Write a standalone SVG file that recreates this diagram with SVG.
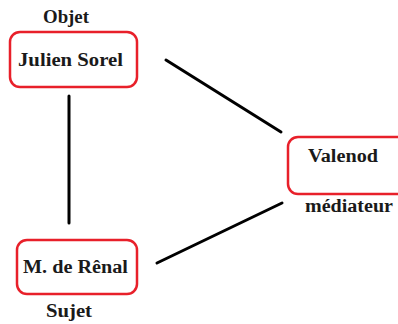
<svg xmlns="http://www.w3.org/2000/svg" width="398" height="324" viewBox="0 0 398 324">
<style>
.box{fill:#fff;stroke:#e8202a;stroke-width:2.5}
.lbl{font-family:"Liberation Serif","DejaVu Serif",serif;font-weight:bold;font-size:18px;fill:#1a1a1a}
.edge{stroke:#000;stroke-width:3;stroke-linecap:round;fill:none}
</style>
<rect width="398" height="324" fill="#fff"/>
<g id="connectors">
<line class="edge" x1="69" y1="96" x2="69" y2="223"/>
<line class="edge" x1="166" y1="60" x2="281" y2="132"/>
<line class="edge" x1="157" y1="263" x2="282" y2="203"/>
</g>
<g id="julien">
<text class="lbl" x="43" y="23" textLength="46" lengthAdjust="spacingAndGlyphs">Objet</text>
<rect class="box" x="10" y="32" width="127" height="55" rx="10"/>
<text class="lbl" x="18" y="66" textLength="105" lengthAdjust="spacingAndGlyphs">Julien Sorel</text>
</g>
<g id="renal">
<rect class="box" x="17" y="240" width="120" height="54" rx="10"/>
<text class="lbl" x="23" y="273" textLength="105" lengthAdjust="spacingAndGlyphs">M. de Rênal</text>
<text class="lbl" x="46" y="317" textLength="46" lengthAdjust="spacingAndGlyphs">Sujet</text>
</g>
<g id="valenod">
<rect class="box" x="288" y="137" width="125" height="57" rx="10"/>
<text class="lbl" x="308" y="162" textLength="70" lengthAdjust="spacingAndGlyphs">Valenod</text>
<text class="lbl" x="305" y="212" textLength="88" lengthAdjust="spacingAndGlyphs">médiateur</text>
</g>
</svg>
